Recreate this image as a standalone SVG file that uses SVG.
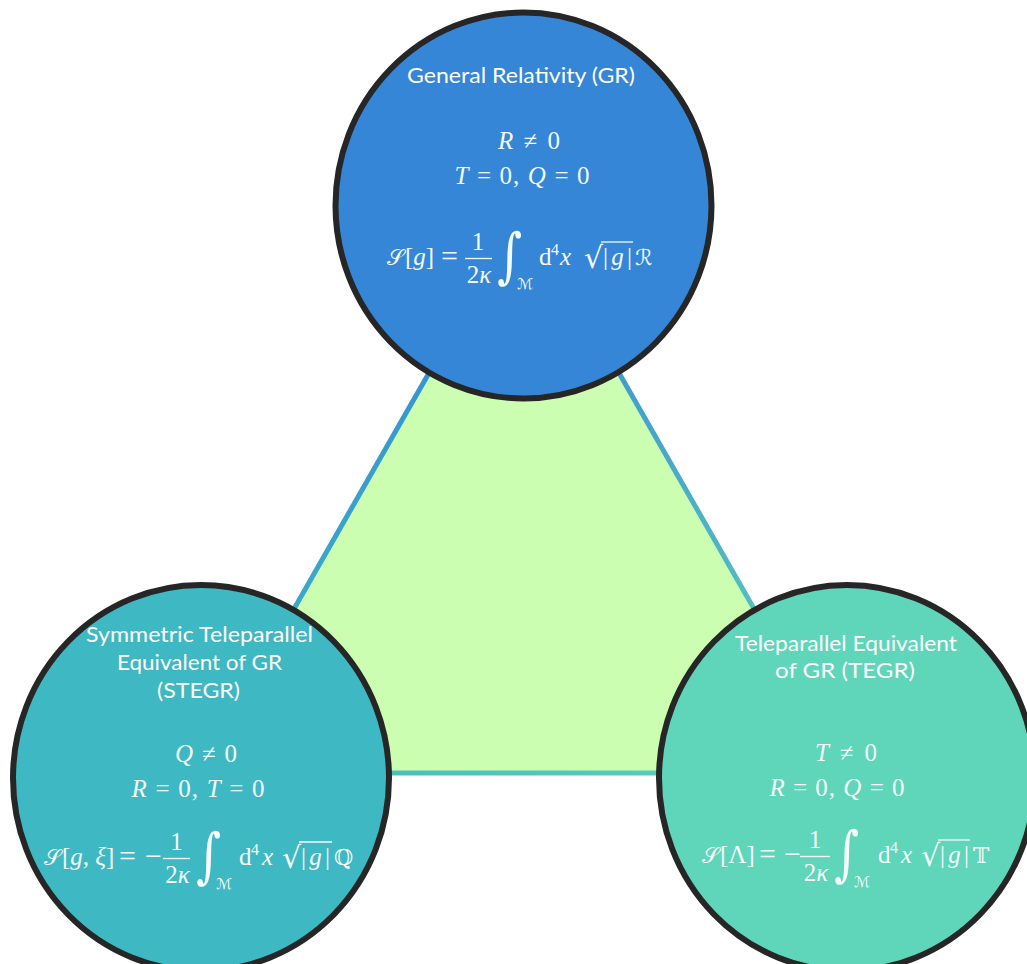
<svg xmlns="http://www.w3.org/2000/svg" width="1027" height="964" viewBox="0 0 1027 964">
<defs>
<style>
.node{stroke:#262626;stroke-width:6}
.title{font-family:Lato,"Open Sans",sans-serif;font-size:20.5px;fill:#ffffff;text-anchor:middle}
.m{font-family:"Liberation Serif","DejaVu Serif",serif;font-size:25px;fill:#f4fbfb}
.c{text-anchor:middle}
.i{font-style:italic}
.op{font-family:"Liberation Serif","DejaVu Serif",serif;font-size:30px;fill:#f4fbfb}
.sym{font-family:"DejaVu Serif","DejaVu Sans",serif;font-size:22px;fill:#f4fbfb}
.int{font-family:"DejaVu Serif","DejaVu Sans",serif;font-size:60px;fill:#f4fbfb}
.sub{font-family:"DejaVu Serif","DejaVu Sans",serif;font-size:15px;fill:#f4fbfb}
.sm{font-family:"Liberation Serif",serif;font-size:16px;fill:#f4fbfb}
.rad{font-family:"DejaVu Serif",serif;font-size:30px;fill:#f4fbfb}
.bar{stroke:#f4fbfb;stroke-width:1.3}
.edge{stroke-width:5;fill:none}
</style>
<linearGradient id="gL" gradientUnits="userSpaceOnUse" x1="524" y1="207" x2="200" y2="773"><stop offset="0" stop-color="#3586d6"/><stop offset="1" stop-color="#3eb8c2"/></linearGradient>
<linearGradient id="gR" gradientUnits="userSpaceOnUse" x1="524" y1="207" x2="848" y2="773"><stop offset="0" stop-color="#3586d6"/><stop offset="1" stop-color="#5fd5b9"/></linearGradient>
<linearGradient id="gB" gradientUnits="userSpaceOnUse" x1="200" y1="773" x2="848" y2="773"><stop offset="0" stop-color="#3eb8c2"/><stop offset="1" stop-color="#5fd5b9"/></linearGradient>
</defs>
<rect width="1027" height="964" fill="#ffffff"/>
<g id="triangle">
<polygon points="524,207 200,773 848,773" fill="#ccfeb2"/>
</g>
<g id="connectors">
<line class="edge" x1="524" y1="207" x2="200" y2="773" stroke="url(#gL)"/>
<line class="edge" x1="524" y1="207" x2="848" y2="773" stroke="url(#gR)"/>
<line class="edge" x1="200" y1="773" x2="848" y2="773" stroke="url(#gB)"/>
</g>
<g id="gr">
<ellipse class="node" cx="523.5" cy="205.5" rx="188" ry="193" fill="#3586d6"/>
<text class="title" x="521" y="83" textLength="228" lengthAdjust="spacingAndGlyphs">General Relativity (GR)</text>
<text class="m c" x="529" y="149" textLength="62" lengthAdjust="spacing"><tspan class="i">R</tspan> ≠ 0</text>
<text class="m c" x="522" y="184" textLength="135" lengthAdjust="spacing"><tspan class="i">T</tspan> = 0, <tspan class="i">Q</tspan> = 0</text>
<g transform="translate(387,265)">
<text class="sym" x="0" y="0">𝒮</text>
<text class="m" x="18" y="0" font-size="24">[<tspan class="i">g</tspan>]</text>
<text class="op" x="54" y="1">=</text>
<text class="m c" x="91" y="-15">1</text>
<line class="bar" x1="78" y1="-6.5" x2="105" y2="-6.5"/>
<text class="m c" x="92" y="18">2<tspan class="i">κ</tspan></text>
<g transform="translate(110,0) scale(0.8,1)"><text class="int" x="0" y="11">∫</text></g>
<text class="sub" x="130" y="24">ℳ</text>
<text class="m" x="152" y="0">d</text>
<text class="sm" x="164" y="-10">4</text>
<text class="m i" x="173" y="0">x</text>
<text class="rad" x="197" y="3">√</text>
<line class="bar" x1="214" y1="-23" x2="246" y2="-23"/>
<text class="m" x="216" y="0" textLength="29" lengthAdjust="spacing">|<tspan class="i">g</tspan>|</text>
<text class="sym" x="248" y="0">ℛ</text>
</g>
</g>
<g id="stegr">
<ellipse class="node" cx="201" cy="778" rx="188" ry="193" fill="#3eb8c2"/>
<text class="title" x="199.5" y="642" textLength="227" lengthAdjust="spacingAndGlyphs">Symmetric Teleparallel</text>
<text class="title" x="199.5" y="670" textLength="165" lengthAdjust="spacingAndGlyphs">Equivalent of GR</text>
<text class="title" x="198.5" y="698" textLength="83" lengthAdjust="spacingAndGlyphs">(STEGR)</text>
<text class="m c" x="206" y="762" textLength="62" lengthAdjust="spacing"><tspan class="i">Q</tspan> ≠ 0</text>
<text class="m c" x="198" y="797" textLength="133" lengthAdjust="spacing"><tspan class="i">R</tspan> = 0, <tspan class="i">T</tspan> = 0</text>
<g transform="translate(44,865)">
<text class="sym" x="0" y="0">𝒮</text>
<text class="m" x="18" y="0" font-size="22">[<tspan class="i">g</tspan>, <tspan class="i">ξ</tspan>]</text>
<text class="op" x="75" y="1">=</text>
<text class="op" x="101" y="1">−</text>
<text class="m c" x="132.5" y="-15">1</text>
<line class="bar" x1="119" y1="-6.5" x2="146" y2="-6.5"/>
<text class="m c" x="133.5" y="18">2<tspan class="i">κ</tspan></text>
<g transform="translate(152,0) scale(0.8,1)"><text class="int" x="0" y="11">∫</text></g>
<text class="sub" x="172" y="24">ℳ</text>
<text class="m" x="195" y="0">d</text>
<text class="sm" x="207" y="-10">4</text>
<text class="m i" x="218" y="0">x</text>
<text class="rad" x="238" y="3">√</text>
<line class="bar" x1="255" y1="-23" x2="288" y2="-23"/>
<text class="m" x="257" y="0" textLength="29" lengthAdjust="spacing">|<tspan class="i">g</tspan>|</text>
<text class="sym" x="290" y="0">ℚ</text>
</g>
</g>
<g id="tegr">
<ellipse class="node" cx="847" cy="778" rx="188" ry="193" fill="#5fd5b9"/>
<text class="title" x="846" y="651" textLength="222" lengthAdjust="spacingAndGlyphs">Teleparallel Equivalent</text>
<text class="title" x="845" y="678" textLength="140" lengthAdjust="spacingAndGlyphs">of GR (TEGR)</text>
<text class="m c" x="846" y="761" textLength="62" lengthAdjust="spacing"><tspan class="i">T</tspan> ≠ 0</text>
<text class="m c" x="837" y="796" textLength="135" lengthAdjust="spacing"><tspan class="i">R</tspan> = 0, <tspan class="i">Q</tspan> = 0</text>
<g transform="translate(702,863)">
<text class="sym" x="0" y="0">𝒮</text>
<text class="m" x="18" y="0">[Λ]</text>
<text class="op" x="57" y="1">=</text>
<text class="op" x="82" y="1">−</text>
<text class="m c" x="113" y="-15">1</text>
<line class="bar" x1="98" y1="-6.5" x2="128" y2="-6.5"/>
<text class="m c" x="114" y="18">2<tspan class="i">κ</tspan></text>
<g transform="translate(132,0) scale(0.8,1)"><text class="int" x="0" y="11">∫</text></g>
<text class="sub" x="152" y="24">ℳ</text>
<text class="m" x="176" y="0">d</text>
<text class="sm" x="188" y="-10">4</text>
<text class="m i" x="199" y="0">x</text>
<text class="rad" x="219" y="3">√</text>
<line class="bar" x1="236" y1="-23" x2="268" y2="-23"/>
<text class="m" x="238" y="0" textLength="29" lengthAdjust="spacing">|<tspan class="i">g</tspan>|</text>
<text class="sym" x="271" y="0">𝕋</text>
</g>
</g>
</svg>
